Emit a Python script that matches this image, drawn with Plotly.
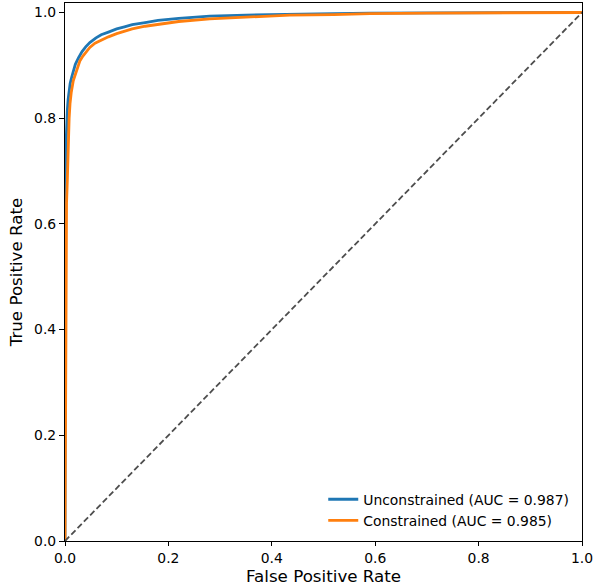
import plotly.graph_objects as go

# Unconstrained ROC curve
fpr_unc = [0.0, 0.0, 0.0005, 0.001, 0.002, 0.003, 0.0045, 0.006, 0.008, 0.01, 0.013, 0.016, 0.02, 0.026,
           0.033, 0.04, 0.048, 0.06, 0.07, 0.084, 0.1, 0.115, 0.13, 0.155, 0.18, 0.22, 0.28, 0.35, 0.435,
           0.52, 0.59, 0.7, 0.8, 0.9, 1.0]
tpr_unc = [0.0, 0.40, 0.62, 0.70, 0.75, 0.785, 0.815, 0.835, 0.852, 0.866, 0.878, 0.890, 0.902, 0.914,
           0.926, 0.935, 0.943, 0.952, 0.958, 0.963, 0.969, 0.973, 0.977, 0.981, 0.985, 0.989, 0.993, 0.995,
           0.997, 0.998, 0.999, 0.9995, 1.0, 1.0, 1.0]

# Constrained ROC curve
fpr_con = [0.0, 0.0005, 0.001, 0.002, 0.003, 0.0045, 0.0064, 0.008, 0.0097, 0.012, 0.016, 0.02, 0.024,
           0.029, 0.035, 0.041, 0.048, 0.058, 0.07, 0.084, 0.1, 0.115, 0.13, 0.155, 0.18, 0.22, 0.28, 0.35,
           0.435, 0.52, 0.59, 0.7, 0.8, 0.9, 1.0]
tpr_con = [0.0, 0.20, 0.40, 0.58, 0.64, 0.683, 0.764, 0.800, 0.827, 0.848, 0.871, 0.884, 0.895, 0.909,
           0.918, 0.926, 0.934, 0.942, 0.948, 0.954, 0.960, 0.965, 0.969, 0.974, 0.978, 0.983, 0.988, 0.991,
           0.995, 0.996, 0.998, 0.999, 0.9995, 1.0, 1.0]

auc_unc = 0.987
auc_con = 0.985

diag_x = [0.0, 1.0]
diag_y = [0.0, 1.0]

tick_vals = [0.0, 0.2, 0.4, 0.6, 0.8, 1.0]
tick_text = ["0.0", "0.2", "0.4", "0.6", "0.8", "1.0"]

x_title = "False Positive Rate"
y_title = "True Positive Rate"

FONT = "DejaVu Sans"

fig = go.Figure()
fig.add_trace(go.Scatter(x=fpr_unc, y=tpr_unc, mode="lines",
                         line=dict(color="#1f77b4", width=2.8),
                         name=f"Unconstrained (AUC = {auc_unc:.3f})"))
fig.add_trace(go.Scatter(x=fpr_con, y=tpr_con, mode="lines",
                         line=dict(color="#ff7f0e", width=2.8),
                         name=f"Constrained (AUC = {auc_con:.3f})"))
fig.add_trace(go.Scatter(x=diag_x, y=diag_y, mode="lines",
                         line=dict(color="#4d4d4d", width=1.8, dash="6px,3px"),
                         showlegend=False, hoverinfo="skip"))

axis_common = dict(
    showgrid=False, zeroline=False,
    showline=True, linecolor="black", linewidth=1.1, mirror=True,
    ticks="outside", tickwidth=1.1, tickcolor="black",
    tickvals=tick_vals, ticktext=tick_text,
    tickfont=dict(family=FONT, size=13.9, color="black"),
)

fig.update_layout(
    width=594, height=585,
    margin=dict(l=65, r=12, t=3, b=44, autoexpand=False),
    plot_bgcolor="white", paper_bgcolor="white",
    font=dict(family=FONT, color="black"),
    xaxis=dict(range=[0, 1], ticklen=4, **axis_common),
    yaxis=dict(range=[0, 1.018], ticklen=5, title=dict(text=y_title,
               font=dict(family=FONT, size=16.7), standoff=7), **axis_common),
    legend=dict(x=0.985, y=0.008, xanchor="right", yanchor="bottom",
                font=dict(family=FONT, size=13.9, color="black"),
                bgcolor="rgba(255,255,255,0.8)", borderwidth=0,
                tracegroupgap=0, itemwidth=30),
    showlegend=True,
    annotations=[dict(text=x_title, x=0.5, y=0, xref="paper", yref="paper",
                      xanchor="center", yanchor="top", yshift=-24, borderpad=0,
                      showarrow=False,
                      font=dict(family=FONT, size=16.7, color="black"))],
)

fig.write_html("out.html", config={"displayModeBar": False},
               post_script="document.body.style.margin='0';document.body.style.overflow='hidden';")
